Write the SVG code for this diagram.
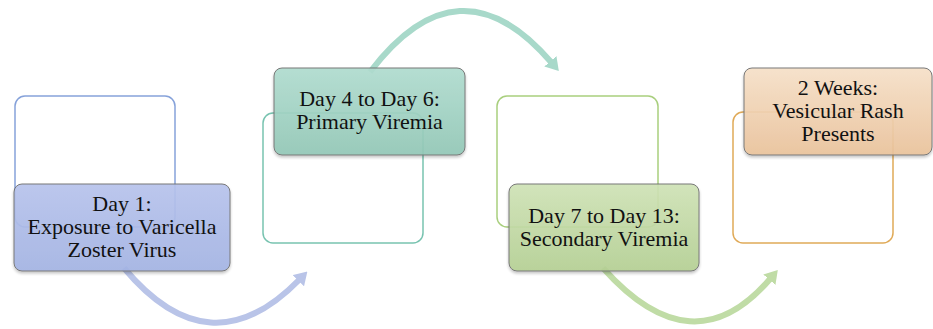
<svg xmlns="http://www.w3.org/2000/svg" width="933" height="329" viewBox="0 0 933 329">
<defs>
<linearGradient id="g1" x1="0" y1="0" x2="0" y2="1"><stop offset="0" stop-color="#b7c3ec"/><stop offset="1" stop-color="#a3b3e3"/></linearGradient>
<linearGradient id="g2" x1="0" y1="0" x2="0" y2="1"><stop offset="0" stop-color="#b0dccf"/><stop offset="1" stop-color="#92c7b6"/></linearGradient>
<linearGradient id="g3" x1="0" y1="0" x2="0" y2="1"><stop offset="0" stop-color="#cfe2b6"/><stop offset="1" stop-color="#b4cf93"/></linearGradient>
<linearGradient id="g4" x1="0" y1="0" x2="0" y2="1"><stop offset="0" stop-color="#f6e0c8"/><stop offset="1" stop-color="#e9c29b"/></linearGradient>
<filter id="sh" x="-10%" y="-10%" width="120%" height="130%"><feDropShadow dx="0" dy="2" stdDeviation="1.5" flood-color="#000" flood-opacity="0.25"/></filter>
<marker id="m1" viewBox="0 -8 13 16" refX="1" refY="0" markerWidth="13" markerHeight="16" markerUnits="userSpaceOnUse" orient="auto"><path d="M0,-8 L13,0 L0,8 z" fill="#b9c4e8"/></marker>
<marker id="m2" viewBox="0 -8 13 16" refX="1" refY="0" markerWidth="13" markerHeight="16" markerUnits="userSpaceOnUse" orient="auto"><path d="M0,-8 L13,0 L0,8 z" fill="#a8d9ca"/></marker>
<marker id="m3" viewBox="0 -8 13 16" refX="1" refY="0" markerWidth="13" markerHeight="16" markerUnits="userSpaceOnUse" orient="auto"><path d="M0,-8 L13,0 L0,8 z" fill="#c0dca6"/></marker>
</defs>
<style>
.outline{fill:none;stroke-width:1.5}
.box{stroke:#6e6e6e;stroke-width:1;filter:url(#sh);opacity:0.93}
.conn{fill:none;stroke-width:6}
text{font-family:"Liberation Serif","Times New Roman",serif;font-size:22px;fill:#111;text-anchor:middle}
</style>
<rect width="933" height="329" fill="#ffffff"/>
<g id="connectors">
<path class="conn" d="M124,268 Q210,371 299,280" stroke="#b9c4e8" marker-end="url(#m1)"/>
<path class="conn" d="M370,72 Q459,-45 551,62" stroke="#a8d9ca" marker-end="url(#m2)"/>
<path class="conn" d="M603,268 Q693,369 770,279" stroke="#c0dca6" marker-end="url(#m3)"/>
</g>
<g id="node1">
<rect class="outline" x="15" y="96" width="160" height="131" rx="10" stroke="#86a2da"/>
<rect class="box" x="14" y="184" width="216" height="87" rx="8" fill="url(#g1)"/>
<text x="122" y="211"><tspan x="122">Day 1:</tspan><tspan x="122" dy="23">Exposure to Varicella</tspan><tspan x="122" dy="23">Zoster Virus</tspan></text>
</g>
<g id="node2">
<rect class="outline" x="263" y="113" width="160" height="130" rx="10" stroke="#78c3b0"/>
<rect class="box" x="274" y="68" width="191" height="87" rx="8" fill="url(#g2)"/>
<text x="369.5" y="106"><tspan x="369.5">Day 4 to Day 6:</tspan><tspan x="369.5" dy="23">Primary Viremia</tspan></text>
</g>
<g id="node3">
<rect class="outline" x="497" y="96" width="161" height="131" rx="10" stroke="#a9cf7e"/>
<rect class="box" x="509" y="184" width="190" height="87" rx="8" fill="url(#g3)"/>
<text x="604" y="223"><tspan x="604">Day 7 to Day 13:</tspan><tspan x="604" dy="23">Secondary Viremia</tspan></text>
</g>
<g id="node4">
<rect class="outline" x="733" y="112" width="160" height="131" rx="10" stroke="#e0aa58"/>
<rect class="box" x="744" y="68" width="188" height="87" rx="8" fill="url(#g4)"/>
<text x="838" y="95"><tspan x="838">2 Weeks:</tspan><tspan x="838" dy="23">Vesicular Rash</tspan><tspan x="838" dy="23">Presents</tspan></text>
</g>
</svg>
